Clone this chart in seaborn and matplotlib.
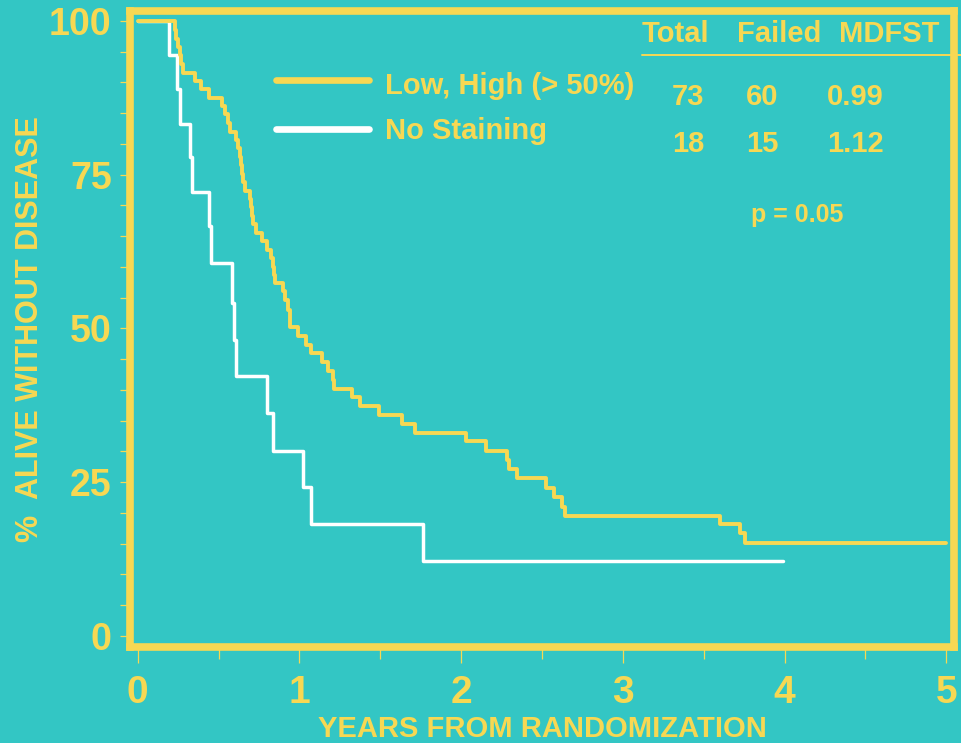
import matplotlib
matplotlib.use("Agg")
import matplotlib.pyplot as plt
from matplotlib.ticker import MultipleLocator
import pandas as pd
import seaborn as sns

# disease free survival curves (years, % alive without disease)
stained_years = [0, 0.229, 0.239, 0.249, 0.260, 0.270, 0.280, 0.355, 0.388, 0.440,
                 0.519, 0.538, 0.556, 0.569, 0.610, 0.620, 0.630, 0.637, 0.645, 0.651,
                 0.661, 0.692, 0.698, 0.705, 0.711, 0.734, 0.771, 0.802, 0.826, 0.836,
                 0.841, 0.847, 0.898, 0.909, 0.929, 0.939, 0.944, 0.991, 1.043, 1.074,
                 1.142, 1.176, 1.207, 1.211, 1.327, 1.376, 1.489, 1.634, 1.712, 2.032,
                 2.151, 2.282, 2.293, 2.344, 2.526, 2.577, 2.625, 2.645, 3.603, 3.727,
                 3.758, 5.0]
stained_pct = [100, 98.5, 97.1, 95.7, 94.4, 93.0, 91.6, 90.3, 88.9, 87.5,
               86.1, 84.8, 83.4, 82.0, 80.6, 79.3, 77.9, 76.5, 75.1, 73.8,
               72.4, 71.0, 69.7, 68.3, 67.0, 65.5, 64.2, 62.7, 61.4, 60.0,
               58.7, 57.3, 56.0, 54.6, 53.0, 51.6, 50.2, 48.7, 47.3, 46.0,
               44.5, 43.0, 41.6, 40.1, 38.8, 37.3, 35.9, 34.5, 33.0, 31.6,
               30.0, 28.6, 27.1, 25.6, 24.1, 22.6, 21.0, 19.5, 18.2, 16.7,
               15.1, 15.1]
none_years = [0, 0.193, 0.245, 0.260, 0.321, 0.334, 0.441, 0.451, 0.583, 0.593,
              0.606, 0.802, 0.836, 1.022, 1.069, 1.763, 3.988]
none_pct = [100, 94.4, 88.9, 83.3, 77.8, 72.2, 66.7, 60.6, 54.1, 48.1,
            42.2, 36.2, 30.1, 24.2, 18.2, 12.2, 12.2]

series_names = ["Low, High (> 50%)", "No Staining"]
table_cols = ["Total", "Failed", "MDFST"]
table_rows = [["73", "60", "0.99"], ["18", "15", "1.12"]]
p_text = "p = 0.05"
x_ticks = [0, 1, 2, 3, 4, 5]
y_ticks = [0, 25, 50, 75, 100]

teal = "#33C6C4"
gold = "#F7D853"

sns.set_theme(style="ticks")
plt.rcParams["font.family"] = ["Liberation Sans", "DejaVu Sans"]
plt.rcParams["font.weight"] = "bold"
plt.rcParams["axes.labelweight"] = "bold"

fig = plt.figure(figsize=(9.61, 7.43), dpi=100, facecolor=teal)
ax = fig.add_axes([0.1353, 0.1296, 0.9932 - 0.1353, 0.9856 - 0.1296])
ax.set_facecolor(teal)

df_a = pd.DataFrame({"years": stained_years, "pct": stained_pct})
df_b = pd.DataFrame({"years": none_years, "pct": none_pct})

sns.lineplot(data=df_a, x="years", y="pct", drawstyle="steps-post", estimator=None,
             sort=False, color=gold, lw=2.8, label=series_names[0], ax=ax, zorder=3)
sns.lineplot(data=df_b, x="years", y="pct", drawstyle="steps-post", estimator=None,
             sort=False, color="white", lw=2.5, label=series_names[1], ax=ax, zorder=2)

ax.set_xlim(-0.048, 5.051)
ax.set_ylim(-1.79, 101.68)
ax.set_xticks(x_ticks)
ax.set_yticks(y_ticks)
ax.xaxis.set_minor_locator(MultipleLocator(0.5))
ax.yaxis.set_minor_locator(MultipleLocator(5))

for s in ax.spines.values():
    s.set_color(gold)
    s.set_linewidth(5.5)
    s.set_capstyle("projecting")

ax.tick_params(axis="x", which="major", length=11.2, width=0.9, color=gold,
               labelcolor=gold, labelsize=28, pad=9)
ax.tick_params(axis="x", which="minor", length=8.9, width=0.9, color=gold)
ax.tick_params(axis="y", which="both", length=7.2, width=0.9, color=gold)
ax.tick_params(axis="y", which="major", labelcolor=gold, labelsize=27, pad=6)

ax.set_xlabel("YEARS FROM RANDOMIZATION", fontsize=21, fontweight="bold",
              color=gold, va="baseline")
ax.xaxis.set_label_coords(0.5, -0.1420)
ax.set_ylabel("%  ALIVE WITHOUT DISEASE", fontsize=22, fontweight="bold",
              color=gold, va="baseline")
ax.yaxis.set_label_coords(-0.1116, 0.5)

leg = ax.legend(loc="upper left", bbox_to_anchor=(0.1766, 0.9036), frameon=False,
                fontsize=21, labelcolor=gold, handlelength=3.2, handletextpad=0.55,
                labelspacing=0.59, borderpad=0, borderaxespad=0)
for line in leg.get_lines():
    line.set_linewidth(4.8)
# on the slide the yellow swatch sits a bit above its text
first = leg.get_lines()[0]
first.set_ydata(first.get_ydata() + 2.9)

# little summary table on the right
for name, xc in zip(table_cols, [3.328, 3.965, 4.645]):
    ax.text(xc, 96.6, name, ha="center", va="baseline", color=gold, fontsize=21)
ax.axhline(94.4, xmin=0.621, xmax=1.008, color=gold, lw=1.4, clip_on=False)
for row, yb in zip(table_rows, [86.3, 78.7]):
    for val, xc in zip(row, [3.402, 3.860, 4.438]):
        ax.text(xc, yb, val, ha="center", va="baseline", color=gold, fontsize=21)
ax.text(4.080, 67.3, p_text, ha="center", va="baseline", color=gold, fontsize=18)

fig.savefig("out.png", dpi=100, facecolor=teal)
